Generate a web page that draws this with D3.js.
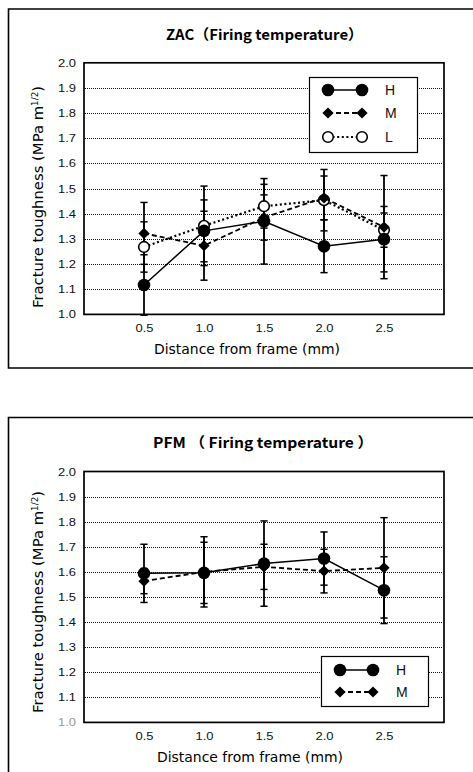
<!DOCTYPE html>
<html><head><meta charset="utf-8">
<script src="https://cdn.jsdelivr.net/npm/d3@7"></script>
<style>
html,body{margin:0;padding:0;background:#fff;}
svg{display:block;}
</style></head>
<body>
<script>
// ---------- data ----------
const xTicks = [0.5, 1.0, 1.5, 2.0, 2.5];
const yTicks = [1.0, 1.1, 1.2, 1.3, 1.4, 1.5, 1.6, 1.7, 1.8, 1.9, 2.0];
const gridValues = [1.1, 1.2, 1.3, 1.4, 1.5, 1.6, 1.7, 1.8, 1.9];

const zacTitle = "ZAC（Firing temperature）";
const pfmTitle = "PFM （ Firing temperature ）";
const xLabel = "Distance from frame (mm)";
const yLabelMain = "Fracture toughness  (MPa m";
const yLabelSup = "1/2";
const yLabelEnd = ")";

const zacSeriesNames = ["H", "M", "L"];
const zacH    = [1.117, 1.332, 1.370, 1.271, 1.299];
const zacHErr = [0.120, 0.123, 0.170, 0.105, 0.130];
const zacM    = [1.322, 1.273, 1.385, 1.463, 1.347];
const zacMErr = [0.123, 0.137, 0.090, 0.087, 0.205];
const zacL    = [1.268, 1.352, 1.430, 1.454, 1.335];
const zacLErr = [0.100, 0.158, 0.087, 0.122, 0.068];

const pfmSeriesNames = ["H", "M"];
const pfmH    = [1.594, 1.596, 1.633, 1.653, 1.527];
const pfmHErr = [0.116, 0.122, 0.170, 0.106, 0.133];
const pfmM    = [1.563, 1.600, 1.620, 1.603, 1.616];
const pfmMErr = [0.050, 0.140, 0.090, 0.087, 0.200];

// ---------- styles per series ----------
const styleOf = {
  H: {marker: "circleFilled", dash: null, width: 1.5},
  M: {marker: "diamond", dash: "5,3", width: 1.8},
  L: {marker: "circleOpen", dash: "2,2.6", width: 2.2}
};

const svg = d3.select("body").append("svg").attr("width", 473).attr("height", 772);
const FONT = "'DejaVu Sans', 'Liberation Sans', Arial, sans-serif";
const TICKFONT = "'Liberation Sans', Arial, sans-serif";

function marker(sel, type, scale) {
  scale = scale || 1;
  if (type === "circleFilled") {
    sel.append("circle").attr("r", 6.3 * scale).attr("fill", "#000");
  } else if (type === "circleOpen") {
    sel.append("circle").attr("r", 5.3 * scale).attr("fill", "#fff").attr("stroke", "#000").attr("stroke-width", 1.6);
  } else {
    const s = 5.6 * scale;
    sel.append("path").attr("d", `M0,${-s}L${s},0L0,${s}L${-s},0Z`).attr("fill", "#000");
  }
}

function drawChart(cfg) {
  const g = svg.append("g");
  // outer frame
  g.append("path")
    .attr("d", cfg.framePath)
    .attr("fill", "none").attr("stroke", "#000").attr("stroke-width", 1.6);

  const x = d3.scaleLinear().domain([0, 3]).range([84, 444]);
  const y = d3.scaleLinear().domain([1, 2]).range([cfg.bottom, cfg.top]);

  // gridlines
  g.append("g").selectAll("line").data(gridValues).join("line")
    .attr("x1", 85).attr("x2", 443)
    .attr("y1", d => Math.round(y(d)) + 0.5).attr("y2", d => Math.round(y(d)) + 0.5)
    .attr("stroke", "#111").attr("stroke-width", 1).attr("stroke-dasharray", "1,1");

  // plot border
  g.append("rect").attr("x", 84).attr("y", cfg.top).attr("width", 360).attr("height", cfg.bottom - cfg.top)
    .attr("fill", "none").attr("stroke", "#000").attr("stroke-width", 1.7);

  // y axis
  const ya = g.append("g").attr("transform", "translate(84,0)")
    .call(d3.axisLeft(y).tickValues(yTicks).tickFormat(d3.format(".1f")).tickSize(0).tickPadding(8));
  ya.select(".domain").remove();
  ya.selectAll("text").attr("font-family", TICKFONT).attr("font-size", 11).attr("fill", "#111")
    .attr("textLength", 18).attr("lengthAdjust", "spacingAndGlyphs");
  if (cfg.grayFirstTick) ya.selectAll("text").filter(d => d === 1.0).attr("fill", "#9a9a9a");

  // x axis
  const xa = g.append("g").attr("transform", `translate(0,${cfg.bottom})`)
    .call(d3.axisBottom(x).tickValues(xTicks).tickFormat(d3.format(".1f")).tickSize(0).tickPadding(10));
  xa.select(".domain").remove();
  xa.selectAll("text").attr("font-family", TICKFONT).attr("font-size", 11).attr("fill", "#111")
    .attr("textLength", 18).attr("lengthAdjust", "spacingAndGlyphs");

  // title
  g.append("text").attr("x", cfg.titleX).attr("y", cfg.titleY)
    .attr("font-family", "'Noto Sans CJK JP', 'DejaVu Sans', sans-serif").attr("font-weight", "bold")
    .attr("font-size", 14.5).attr("textLength", cfg.titleLen).attr("lengthAdjust", "spacingAndGlyphs")
    .text(cfg.title);

  // x label
  g.append("text").attr("x", cfg.xLabelX).attr("y", cfg.bottom + 40)
    .attr("font-family", FONT).attr("font-size", 13.5)
    .attr("textLength", 186).attr("lengthAdjust", "spacingAndGlyphs")
    .text(xLabel);

  // y label
  const yl = g.append("text")
    .attr("transform", `translate(42.5,${cfg.yLabelStart}) rotate(-90)`)
    .attr("font-family", FONT).attr("font-size", 13.5)
    .attr("textLength", 222).attr("lengthAdjust", "spacingAndGlyphs");
  yl.append("tspan").text(yLabelMain);
  yl.append("tspan").attr("font-size", 8).attr("dy", -5).text(yLabelSup);
  yl.append("tspan").attr("dy", 5).text(yLabelEnd);

  // series (draw in reverse so H is on top)
  const order = cfg.series.slice().reverse();
  // error bars
  order.forEach(s => {
    const eb = g.append("g").attr("stroke", "#000");
    s.values.forEach((v, i) => {
      const cx = x(xTicks[i]);
      const y1 = y(v - s.err[i]), y2 = y(v + s.err[i]);
      eb.append("line").attr("x1", cx).attr("x2", cx).attr("y1", y1).attr("y2", y2).attr("stroke-width", 1.8);
      eb.append("line").attr("x1", cx - 3.6).attr("x2", cx + 3.6).attr("y1", y1).attr("y2", y1).attr("stroke-width", 1.5);
      eb.append("line").attr("x1", cx - 3.6).attr("x2", cx + 3.6).attr("y1", y2).attr("y2", y2).attr("stroke-width", 1.5);
    });
  });
  order.forEach(s => {
    const st = styleOf[s.name];
    const line = d3.line().x((d, i) => x(xTicks[i])).y(d => y(d));
    g.append("path").datum(s.values).attr("d", line)
      .attr("fill", "none").attr("stroke", "#000").attr("stroke-width", st.width)
      .attr("stroke-dasharray", st.dash);
    s.values.forEach((v, i) => {
      const mg = g.append("g").attr("transform", `translate(${x(xTicks[i])},${y(v)})`);
      marker(mg, st.marker);
    });
  });

  // legend
  const L = cfg.legend;
  g.append("rect").attr("x", L.x + 0.5).attr("y", L.y + 0.5).attr("width", L.w).attr("height", L.h)
    .attr("fill", "#fff").attr("stroke", "#000").attr("stroke-width", 1.2);
  cfg.series.forEach((s, i) => {
    const st = styleOf[s.name];
    const cy = L.rowY[i];
    g.append("line").attr("x1", L.m1).attr("x2", L.m2).attr("y1", cy).attr("y2", cy)
      .attr("stroke", "#000").attr("stroke-width", st.width).attr("stroke-dasharray", st.dash);
    marker(g.append("g").attr("transform", `translate(${L.m1},${cy})`), st.marker, 1.0);
    marker(g.append("g").attr("transform", `translate(${L.m2},${cy})`), st.marker, 1.0);
    g.append("text").attr("x", L.tx).attr("y", cy + 5).attr("font-family", TICKFONT).attr("font-size", 14)
      .attr("fill", "#111").text(s.name);
  });
}

drawChart({
  framePath: "M480,9H8.5V368H480",
  top: 62.8, bottom: 314.4,
  title: zacTitle, titleX: 166, titleY: 40, titleLen: 197,
  xLabelX: 154, yLabelStart: 308,
  series: [
    {name: zacSeriesNames[0], values: zacH, err: zacHErr},
    {name: zacSeriesNames[1], values: zacM, err: zacMErr},
    {name: zacSeriesNames[2], values: zacL, err: zacLErr}
  ],
  legend: {x: 309, y: 77, w: 108, h: 75, rowY: [90, 113, 137], m1: 328, m2: 362, tx: 385},
  grayFirstTick: false
});

drawChart({
  framePath: "M480,417.5H8.5V780",
  top: 471.5, bottom: 722.4,
  title: pfmTitle, titleX: 153, titleY: 448, titleLen: 220,
  xLabelX: 157, yLabelStart: 713,
  series: [
    {name: pfmSeriesNames[0], values: pfmH, err: pfmHErr},
    {name: pfmSeriesNames[1], values: pfmM, err: pfmMErr}
  ],
  legend: {x: 321, y: 656, w: 107, h: 50, rowY: [670, 692], m1: 340, m2: 373, tx: 396},
  grayFirstTick: true
});
</script>
</body></html>
